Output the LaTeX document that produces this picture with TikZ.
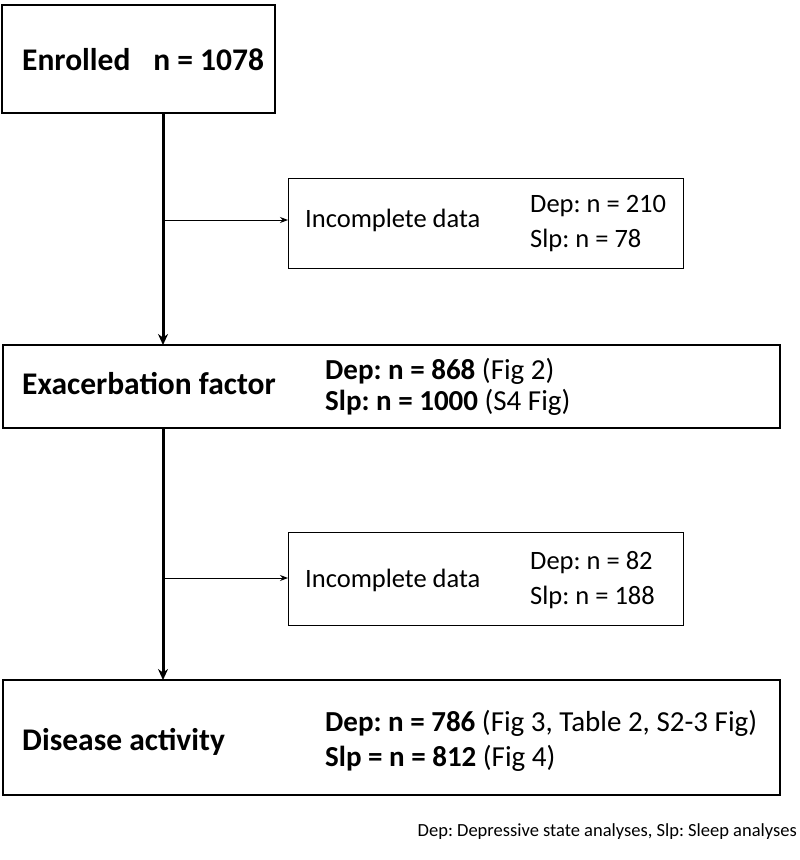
\documentclass[tikz,border=0pt]{standalone}
\usepackage{fontspec}
\setmainfont{Carlito}
\frenchspacing
\usetikzlibrary{arrows.meta}
\begin{document}
\begin{tikzpicture}[x=1pt,y=-1pt,
  box/.style={draw,line width=1.3pt,inner sep=0pt},
  sbox/.style={draw,line width=0.8pt,inner sep=0pt},
  big/.style={font=\fontsize{31.5}{35}\selectfont\bfseries,anchor=west,inner sep=0pt},
  mid/.style={font=\fontsize{29}{33}\selectfont,anchor=west,inner sep=0pt},
  sm/.style={font=\fontsize{26.5}{30}\selectfont,anchor=west,inner sep=0pt},
  main/.style={line width=3pt,-{Stealth[length=11pt,width=10pt]}},
  br/.style={line width=1pt,-{Stealth[length=8pt,width=6pt]}}]
\useasboundingbox (0,0) rectangle (800,860);
\draw[box] (2,5) rectangle (275,113);
\node[big] (en) at (22,60) {Enrolled\hspace{0.5em} n = 1078};
\coordinate (enb) at (163,113);
\draw[sbox] (288,178) rectangle (683,268);
\coordinate (i1) at (288,220);
\node[sm] at (305,220) {Incomplete data};
\node[sm] at (530,206) {Dep: n = 210};
\node[sm] at (530,240) {Slp: n = 78};
\draw[box] (3,345) rectangle (780,428);
\coordinate (ext) at (163,345);
\coordinate (exb) at (163,428);
\node[big] at (22,384) {Exacerbation factor};
\node[mid] at (325,371) {\textbf{Dep: n = 868} (Fig 2)};
\node[mid] at (325,402) {\textbf{Slp: n = 1000} (S4 Fig)};
\draw[sbox] (288,532) rectangle (683,625);
\coordinate (i2) at (288,578);
\node[sm] at (305,580) {Incomplete data};
\node[sm] at (530,563) {Dep: n = 82};
\node[sm] at (530,597) {Slp: n = 188};
\draw[box] (3,680) rectangle (780,795);
\coordinate (dat) at (163,680);
\node[big] at (22,742) {Disease activity};
\node[mid] at (325,723) {\textbf{Dep: n = 786} (Fig 3, Table 2, S2-3 Fig)};
\node[mid] at (325,758) {\textbf{Slp = n = 812} (Fig 4)};
\node[font=\fontsize{18.5}{22}\selectfont,anchor=east,inner sep=0pt] at (797,832) {Dep: Depressive state analyses, Slp: Sleep analyses};
\draw[main] (enb) -- (ext);
\draw[br] (163,220) -- (i1);
\draw[main] (exb) -- (dat);
\draw[br] (163,578) -- (i2);
\end{tikzpicture}
\end{document}
